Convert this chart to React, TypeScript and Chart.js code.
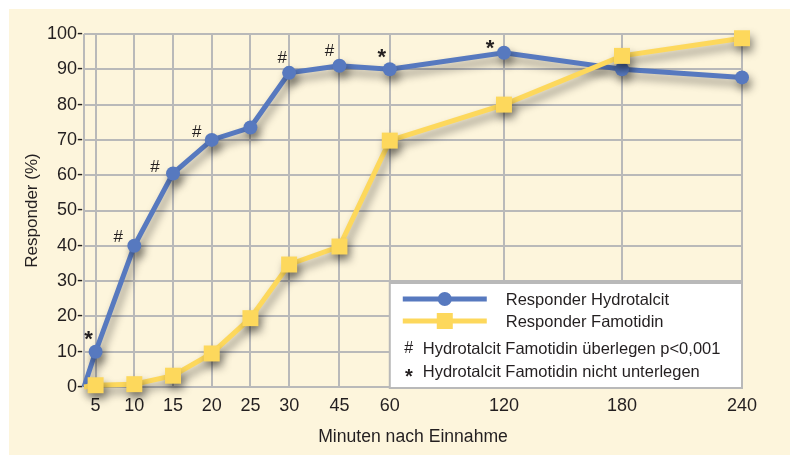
import React, { useEffect, useRef } from "react";
import { Chart, registerables } from "chart.js";

Chart.register(...registerables);

// ---- data ----
const minuteLabels = ["", "5", "10", "15", "20", "25", "30", "45", "60", "120", "180", "240"];
// position of each time point along the (irregularly spaced) x axis, in axis slots
const axisSlots = [0, 0.3, 1.3, 2.3, 3.3, 4.3, 5.3, 6.6, 7.9, 10.85, 13.9, 17.0];
const hydrotalcit = [0, 10, 40, 60.5, 70, 73.5, 89, 91, 90, 94.7, 90, 87.7];
const famotidin = [0, 0.5, 0.8, 3.2, 9.5, 19.5, 34.7, 39.8, 69.8, 80, 93.8, 98.8];
const sigMarks = ["", "*", "#", "#", "#", "", "#", "#", "*", "*", "", ""];
const yTicks = [0, 10, 20, 30, 40, 50, 60, 70, 80, 90, 100];
const legendSeries = ["Responder Hydrotalcit", "Responder Famotidin"];
const legendNotes = [
  ["#", "Hydrotalcit Famotidin überlegen p<0,001"],
  ["*", "Hydrotalcit Famotidin nicht unterlegen"],
];
const xTitle = "Minuten nach Einnahme";
const yTitle = "Responder (%)";

// ---- styles ----
const BLUE = "#5779bf";
const YELLOW = "#fdd85c";
const CREAM = "#fdf5dc";
const GRID = "#b9b9b9";
const TEXT = "#231f20";
const FONT = "'Liberation Sans', Arial, sans-serif";
// pixel offsets of significance marks relative to their point
const markOffsets: [number, number][] = [
  [0, 0], [-7, -17], [-16, -8], [-18, -6], [-15, -8], [0, 0],
  [-7, -15], [-10, -14], [-8, -16], [-14, -9], [0, 0], [0, 0],
];

const backgroundPlugin = {
  id: "bg",
  beforeDraw(chart: any) {
    const { ctx, width, height } = chart;
    ctx.save();
    ctx.fillStyle = "#ffffff";
    ctx.fillRect(0, 0, width, height);
    ctx.fillStyle = CREAM;
    ctx.fillRect(9, 9, width - 9, height - 9);
    ctx.restore();
  },
};

const shadowPlugin = {
  id: "shadow",
  beforeDatasetDraw(chart: any) {
    const ctx = chart.ctx;
    ctx.save();
    ctx.shadowColor = "rgba(0,0,0,0.42)";
    ctx.shadowBlur = 8;
    ctx.shadowOffsetX = 3;
    ctx.shadowOffsetY = 6;
  },
  afterDatasetDraw(chart: any) {
    chart.ctx.restore();
  },
};

const overlayPlugin = {
  id: "overlay",
  afterDatasetsDraw(chart: any) {
    const { ctx, scales } = chart;
    const xs = scales.x;
    const ys = scales.y;
    ctx.save();
    // significance marks
    ctx.fillStyle = TEXT;
    ctx.textAlign = "center";
    ctx.textBaseline = "middle";
    sigMarks.forEach((m, i) => {
      if (!m) return;
      const px = xs.getPixelForValue(axisSlots[i]) + markOffsets[i][0];
      const py = ys.getPixelForValue(hydrotalcit[i]) + markOffsets[i][1];
      if (m === "*") {
        ctx.font = `bold 22px ${FONT}`;
        ctx.fillText(m, px, py + 5);
      } else {
        ctx.font = `17px ${FONT}`;
        ctx.fillText(m, px, py);
      }
    });

    // legend box
    const ca = chart.chartArea;
    const bx = xs.getPixelForValue(axisSlots[8]);
    const by = ca.bottom - 104;
    const bw = ca.right - bx;
    const bh = ca.bottom - by + 1;
    ctx.fillStyle = "#ffffff";
    ctx.fillRect(bx, by, bw, bh);
    ctx.strokeStyle = GRID;
    ctx.lineWidth = 2;
    ctx.strokeRect(bx, by, bw, bh);

    const colors = [BLUE, YELLOW];
    const rows = [by + 16, by + 38];
    legendSeries.forEach((label, i) => {
      const y = rows[i];
      ctx.strokeStyle = colors[i];
      ctx.lineWidth = 5;
      ctx.beginPath();
      ctx.moveTo(bx + 13, y);
      ctx.lineTo(bx + 97, y);
      ctx.stroke();
      ctx.fillStyle = colors[i];
      if (i === 0) {
        ctx.beginPath();
        ctx.arc(bx + 55, y, 7, 0, Math.PI * 2);
        ctx.fill();
      } else {
        ctx.fillRect(bx + 55 - 8, y - 8, 16, 16);
      }
      ctx.fillStyle = TEXT;
      ctx.font = `16.5px ${FONT}`;
      ctx.textAlign = "left";
      ctx.textBaseline = "middle";
      ctx.fillText(label, bx + 116, y + 1);
    });
    const noteRows = [by + 66, by + 89];
    legendNotes.forEach(([sym, txt], i) => {
      const y = noteRows[i];
      ctx.fillStyle = TEXT;
      ctx.textAlign = "center";
      if (sym === "*") {
        ctx.font = `bold 20px ${FONT}`;
        ctx.fillText(sym, bx + 19, y + 5);
      } else {
        ctx.font = `16px ${FONT}`;
        ctx.fillText(sym, bx + 19, y);
      }
      ctx.textAlign = "left";
      ctx.font = `16.5px ${FONT}`;
      ctx.fillText(txt, bx + 33, y);
    });
    ctx.restore();
  },
};

export default function App() {
  const ref = useRef<HTMLCanvasElement | null>(null);

  useEffect(() => {
    if (!ref.current) return;
    const toPoints = (vals: number[]) => vals.map((v, i) => ({ x: axisSlots[i], y: v }));
    const chart = new Chart(ref.current, {
      type: "line",
      data: {
        datasets: [
          {
            label: legendSeries[1],
            data: toPoints(famotidin),
            borderColor: YELLOW,
            backgroundColor: YELLOW,
            borderWidth: 5,
            pointStyle: "rect",
            pointRadius: famotidin.map((_, i) => (i === 0 ? 0 : 11.3)),
            pointBorderWidth: 0,
            pointBackgroundColor: YELLOW,
            tension: 0,
            clip: false,
            order: 0,
          },
          {
            label: legendSeries[0],
            data: toPoints(hydrotalcit),
            borderColor: BLUE,
            backgroundColor: BLUE,
            borderWidth: 5,
            pointStyle: "circle",
            pointRadius: hydrotalcit.map((_, i) => (i === 0 ? 0 : 7)),
            pointBorderWidth: 0,
            pointBackgroundColor: BLUE,
            tension: 0,
            clip: false,
            order: 1,
          },
        ],
      },
      options: {
        animation: false,
        responsive: false,
        devicePixelRatio: 1,
        layout: { padding: { left: 0, top: 34, right: 48, bottom: 0 } },
        plugins: { legend: { display: false }, tooltip: { enabled: false } },
        scales: {
          x: {
            type: "linear",
            min: 0,
            max: axisSlots[axisSlots.length - 1],
            afterBuildTicks: (scale: any) => {
              scale.ticks = axisSlots.map((v) => ({ value: v }));
            },
            afterFit: (scale: any) => {
              scale.height = 68;
            },
            ticks: {
              autoSkip: false,
              maxRotation: 0,
              padding: 8,
              color: TEXT,
              font: { family: FONT, size: 18 },
              callback: (_v: any, i: number) => minuteLabels[i],
            },
            grid: { color: GRID, lineWidth: 2, drawTicks: false },
            border: { display: false },
            title: {
              display: true,
              text: xTitle,
              color: TEXT,
              font: { family: FONT, size: 17.6 },
              padding: { top: 0, bottom: 7 },
            },
          },
          y: {
            min: 0,
            max: 100,
            afterBuildTicks: (scale: any) => {
              scale.ticks = yTicks.map((v) => ({ value: v }));
            },
            afterFit: (scale: any) => {
              scale.width = 84;
            },
            ticks: {
              padding: 1,
              color: TEXT,
              font: { family: FONT, size: 18 },
              callback: (v: any) => `${v}-`,
            },
            grid: { color: GRID, lineWidth: 2, drawTicks: false },
            border: { display: false },
            title: {
              display: true,
              text: yTitle,
              color: TEXT,
              font: { family: FONT, size: 17 },
              padding: { top: 22, bottom: 0 },
            },
          },
        },
      },
      plugins: [backgroundPlugin, shadowPlugin, overlayPlugin],
    } as any);
    return () => chart.destroy();
  }, []);

  return (
    <div style={{ position: "fixed", left: 0, top: 0, width: 790, height: 455, background: "#fff" }}>
      <canvas ref={ref} width={790} height={455} style={{ display: "block" }} />
    </div>
  );
}
